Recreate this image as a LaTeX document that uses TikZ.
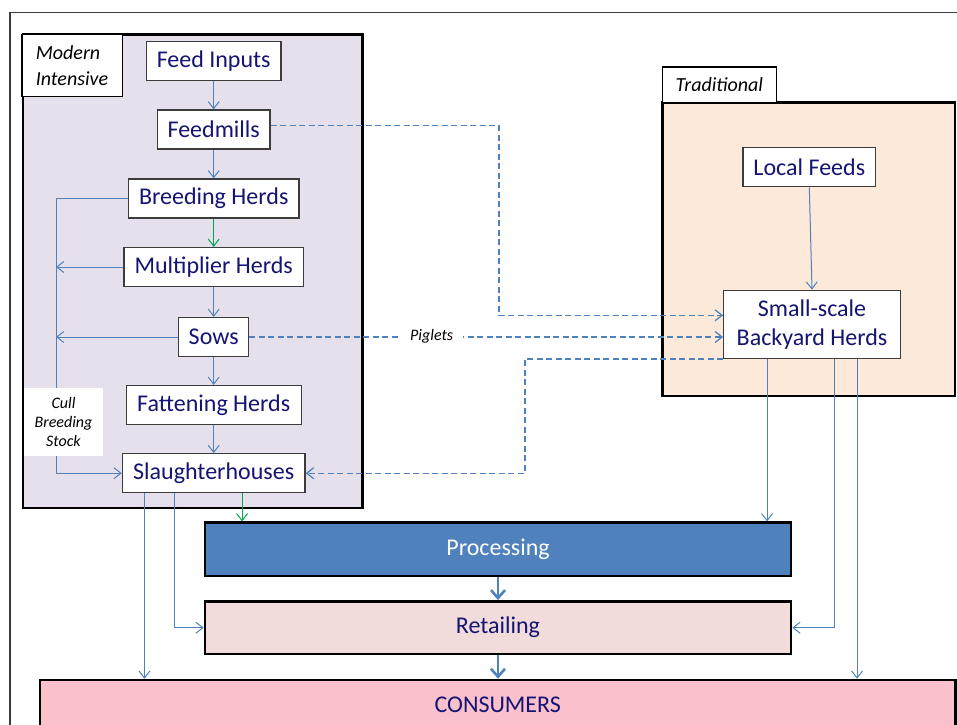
\documentclass[tikz,border=0pt]{standalone}
\usepackage{fontspec}
\setmainfont{Carlito}
\usetikzlibrary{arrows.meta,calc}
\definecolor{navytext}{RGB}{20,20,115}
\definecolor{arrowblue}{RGB}{79,129,189}
\definecolor{flowgreen}{RGB}{0,166,80}
\definecolor{lavender}{RGB}{229,224,236}
\definecolor{peach}{RGB}{253,233,217}
\definecolor{procblue}{RGB}{79,129,189}
\definecolor{retpink}{RGB}{242,220,219}
\definecolor{conspink}{RGB}{250,192,203}
\definecolor{boxgray}{RGB}{60,60,60}
\begin{document}
\begin{tikzpicture}[x=1pt,y=-1pt,
  stagebox/.style={draw=boxgray,fill=white,line width=1.3pt,text=navytext,
    font=\fontsize{24}{29}\selectfont,inner sep=0pt,minimum height=39pt},
  bigbox/.style={draw=black,line width=2.6pt,inner sep=0pt,
    font=\fontsize{24}{29}\selectfont},
  labelbox/.style={draw=black,fill=white,line width=1.3pt,inner sep=0pt,
    font=\fontsize{20}{26.7}\selectfont\itshape,align=left},
  flow/.style={draw=arrowblue,line width=1pt,-{Straight Barb[length=7pt,width=11pt]}},
  flowg/.style={draw=flowgreen,line width=1pt,-{Straight Barb[length=7pt,width=11pt]}},
  dflow/.style={draw=arrowblue,line width=1.25pt,dash pattern=on 6pt off 3.5pt,
    -{Straight Barb[length=7pt,width=11pt]}},
  thickflow/.style={draw=arrowblue,line width=2.6pt,-{Straight Barb[length=8pt,width=14pt]}}
]
\useasboundingbox (0,0) rectangle (957,724);
\clip (0,0) rectangle (957,724);

% outer frame
\draw[draw=boxgray,line width=1.2pt] (10,730) -- (10,12.3) -- (960,12.3);

% Modern intensive group
\draw[draw=black,fill=lavender,line width=2.6pt] (23,34.3) rectangle (362.7,508);
\node[labelbox,minimum width=100.3pt,minimum height=62.4pt] (mlab) at (72,65.5) {Modern\\Intensive};

\node[stagebox,minimum width=134.7pt] (fi) at (213.7,60.8) {Feed Inputs};
\node[stagebox,minimum width=112.7pt] (fm) at (213.7,129.5) {Feedmills};
\node[stagebox,minimum width=170.7pt] (bh) at (213.7,198.5) {Breeding Herds};
\node[stagebox,minimum width=179.3pt] (mh) at (213.7,267) {Multiplier Herds};
\node[stagebox,minimum width=70pt] (sw) at (213.7,337) {Sows};
\node[stagebox,minimum width=175pt] (fh) at (213.7,405) {Fattening Herds};
\node[stagebox,minimum width=182.7pt] (sh) at (213.7,473.2) {Slaughterhouses};

% Traditional group
\draw[draw=black,fill=peach,line width=2.6pt] (662.3,102.7) rectangle (955,396);
\node[labelbox,minimum width=114pt,minimum height=35.7pt] (tlab) at (719.3,84.9) {Traditional};
\node[stagebox,minimum width=132.7pt] (lf) at (809.3,167.2) {Local Feeds};
\node[stagebox,minimum width=176.6pt,minimum height=68pt,align=center] (ss) at (812,324.3) {Small-scale\\Backyard Herds};

% bottom chain
\node[bigbox,fill=procblue,text=white,minimum width=586pt,minimum height=53.3pt] (proc) at (498,549.3) {Processing};
\node[bigbox,fill=retpink,text=navytext,minimum width=586pt,minimum height=52.7pt] (ret) at (498,627.7) {Retailing};
\node[bigbox,fill=conspink,text=navytext,minimum width=915.5pt,minimum height=50pt] (cons) at (497.7,705) {CONSUMERS};

% modern chain
\draw[flow] (fi) -- (fm);
\draw[flow] (fm) -- (bh);
\draw[flowg] (bh) -- (mh);
\draw[flow] (mh) -- (sw);
\draw[flow] (sw) -- (fh);
\draw[flow] (fh) -- (sh);

% cull breeding stock loop
\coordinate (lx) at (56,0);
\draw[flow] (bh.west) -- (bh.west -| lx) -- (lx |- sh.west) -- (sh.west);
\draw[flow] (mh.west) -- (mh.west -| lx);
\draw[flow] (sw.west) -- (sw.west -| lx);
\node[fill=white,inner sep=0pt,minimum width=78.4pt,minimum height=67.4pt,align=center,
  font=\fontsize{16}{19}\selectfont\itshape] (cull) at (63.5,422) {Cull\\Breeding\\Stock};

% traditional chain
\draw[flow] (lf.south) -- (ss.north);

% dashed links
\coordinate (fmo) at ($(fm.east)+(0,-4.2)$);
\coordinate (dj) at (499,315.3);
\draw[dflow] (fmo) -| (dj) -- (dj -| ss.west);
\draw[dflow] (sw.east) -- (sw.east -| ss.west);
\node[fill=white,inner xsep=10pt,inner ysep=2pt,font=\fontsize{16}{19}\selectfont\itshape] (pig) at (431.7,336.5) {Piglets};
\coordinate (dk) at (525,473.2);
\draw[dflow] (ss.south west) -| (dk) -- (sh.east);

% links to processing, retailing, consumers
\coordinate (a1) at ($(sh.south west)+(22.7,0)$);
\coordinate (a2) at ($(sh.south west)+(52.7,0)$);
\coordinate (a3) at ($(sh.south west)+(120.4,0)$);
\coordinate (b1) at ($(ss.south west)+(44,0)$);
\coordinate (b2) at ($(ss.south west)+(111.3,0)$);
\coordinate (b3) at ($(ss.south west)+(134,0)$);
\draw[flow] (a1) -- (a1 |- cons.north);
\draw[flow] (a2) |- (ret.west);
\draw[flowg] (a3) -- (a3 |- proc.north);
\draw[flow] (b1) -- (b1 |- proc.north);
\draw[flow] (b2) |- (ret.east);
\draw[flow] (b3) -- (b3 |- cons.north);
\draw[thickflow] (proc.south) -- (ret.north);
\draw[thickflow] (ret.south) -- (ret.south |- cons.north);
\end{tikzpicture}
\end{document}
